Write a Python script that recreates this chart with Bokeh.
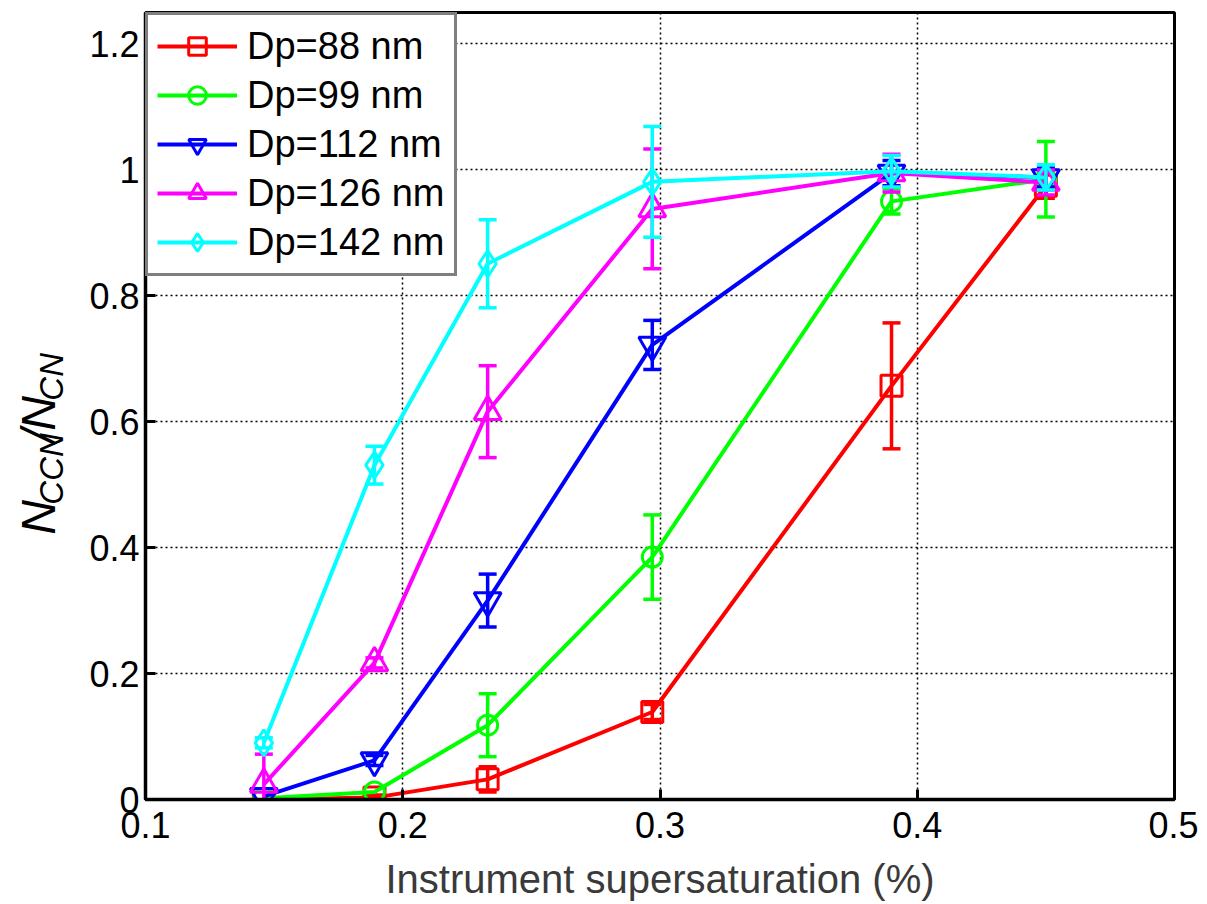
import math
from bokeh.plotting import figure
from bokeh.layouts import row
from bokeh.models import Range1d, Legend, LegendItem, FixedTicker
from bokeh.core.properties import value
from bokeh.embed import file_html
from bokeh.resources import INLINE

# ---------------- data ----------------
supersat = [0.146, 0.189, 0.233, 0.297, 0.390, 0.450]

series_names = ["Dp=88 nm", "Dp=99 nm", "Dp=112 nm", "Dp=126 nm", "Dp=142 nm"]

ratio_88 = [0.000, 0.003, 0.032, 0.139, 0.657, 0.975]
err_88 = [0.000, 0.004, 0.020, 0.012, 0.100, 0.020]

ratio_99 = [0.002, 0.012, 0.118, 0.385, 0.950, 0.985]
err_99 = [0.000, 0.000, 0.050, 0.067, 0.020, 0.060]

ratio_112 = [0.005, 0.062, 0.316, 0.722, 0.995, 0.988]
err_112 = [0.000, 0.008, 0.042, 0.039, 0.020, 0.015]

ratio_126 = [0.024, 0.217, 0.616, 0.938, 0.995, 0.980]
err_126 = [0.048, 0.008, 0.073, 0.095, 0.030, 0.020]

ratio_142 = [0.090, 0.531, 0.851, 0.981, 0.998, 0.988]
err_142 = [0.008, 0.030, 0.070, 0.088, 0.025, 0.020]

x_ticks = [0.1, 0.2, 0.3, 0.4, 0.5]
y_ticks = [0, 0.2, 0.4, 0.6, 0.8, 1.0, 1.2]

y_label_parts = ["N", "CCN", "/", "N", "CN"]
y_label_is_sub = [False, True, False, False, True]

# ---------------- styles ----------------
colors = ["#ff0000", "#00ff00", "#0000ff", "#ff00ff", "#00ffff"]
markers = ["square", "circle", "inverted_triangle", "triangle", "diamond"]
msizes = [21, 20, 27, 27, 26]
all_y = [ratio_88, ratio_99, ratio_112, ratio_126, ratio_142]
all_e = [err_88, err_99, err_112, err_126, err_142]

FONT = "Liberation Sans"
W_LAB = 80
H = 904

# ---------------- y-label panel ----------------
pl = figure(width=W_LAB, height=H, output_backend="svg", toolbar_location=None,
            x_range=Range1d(0, W_LAB), y_range=Range1d(0, H), min_border=0)
pl.axis.visible = False
pl.grid.visible = False
pl.outline_line_color = None
pl.background_fill_color = "white"
pl.border_fill_color = "white"

F, S = 48, 33
main_x, sub_x = 38, 51
adv = {"N": 0.722, "C": 0.722, "/": 0.278}
pos = H - 600.0
for txt, is_sub in zip(y_label_parts, y_label_is_sub):
    size = S if is_sub else F
    pl.text(x=[sub_x if is_sub else main_x], y=[pos], text=[txt], angle=math.pi / 2,
            text_font=value(FONT), text_font_style="italic", text_font_size=f"{size}px",
            text_color="black", text_align="left", text_baseline="alphabetic")
    pos += sum(adv[c] for c in txt) * size

# ---------------- main plot ----------------
p = figure(width=1198 - W_LAB, height=H, output_backend="svg", toolbar_location=None,
           x_range=Range1d(0.1, 0.5), y_range=Range1d(0, 1.25),
           min_border_left=145 - W_LAB, min_border_right=24, min_border_top=12,
           min_border_bottom=105)

p.background_fill_color = "white"
p.border_fill_color = "white"
p.outline_line_color = "black"
p.outline_line_width = 3

p.xaxis.ticker = FixedTicker(ticks=x_ticks)
p.yaxis.ticker = FixedTicker(ticks=y_ticks)
p.yaxis.major_label_overrides = {0: "0", 1.0: "1"}
for ax in (p.xaxis[0], p.yaxis[0]):
    ax.axis_line_width = 3.5
    ax.axis_line_color = "black"
    ax.major_tick_in = 10
    ax.major_tick_out = 0
    ax.major_tick_line_width = 3
    ax.minor_tick_line_color = None
    ax.major_label_text_font = FONT
    ax.major_label_text_font_size = "36px"
    ax.major_label_text_color = "black"
p.xaxis.major_label_standoff = 12
p.yaxis.major_label_standoff = 6

p.xaxis.axis_label = "Instrument supersaturation (%)"
p.xaxis.axis_label_text_font = FONT
p.xaxis.axis_label_text_font_size = "40px"
p.xaxis.axis_label_text_font_style = "normal"
p.xaxis.axis_label_text_color = "#3a3a3a"
p.xaxis.axis_label_standoff = 16

for g in (p.xgrid[0], p.ygrid[0]):
    g.grid_line_color = "black"
    g.grid_line_dash = "2 3"
    g.grid_line_width = 1.5

items = []
for name, col, mk, ms, ys, es in zip(series_names, colors, markers, msizes, all_y, all_e):
    ex = [x for x, e in zip(supersat, es) if e > 0]
    ey = [y for y, e in zip(ys, es) if e > 0]
    ee = [e for e in es if e > 0]
    lo = [y - e for y, e in zip(ey, ee)]
    hi = [y + e for y, e in zip(ey, ee)]
    p.segment(x0=ex, y0=lo, x1=ex, y1=hi, line_color=col, line_width=3.5)
    p.scatter(x=ex + ex, y=lo + hi, marker="dash", size=18, line_color=col, line_width=3.5)
    ln = p.line(supersat, ys, line_color=col, line_width=4)
    sc = p.scatter(supersat, ys, marker=mk, size=ms, line_color=col, line_width=3,
                   fill_color=None)
    items.append(LegendItem(label=name, renderers=[ln, sc]))

legend = Legend(items=items, location="top_left", margin=0)
legend.label_text_font = FONT
legend.label_text_font_size = "38px"
legend.label_text_color = "black"
legend.glyph_width = 80
legend.glyph_height = 44
legend.label_height = 44
legend.spacing = 5
legend.padding = 9
legend.label_standoff = 10
legend.border_line_color = "black"
legend.border_line_width = 3.5
legend.background_fill_color = "white"
legend.background_fill_alpha = 1.0
p.add_layout(legend)

layout = row(pl, p)
open("out.html", "w").write(file_html(layout, INLINE))
